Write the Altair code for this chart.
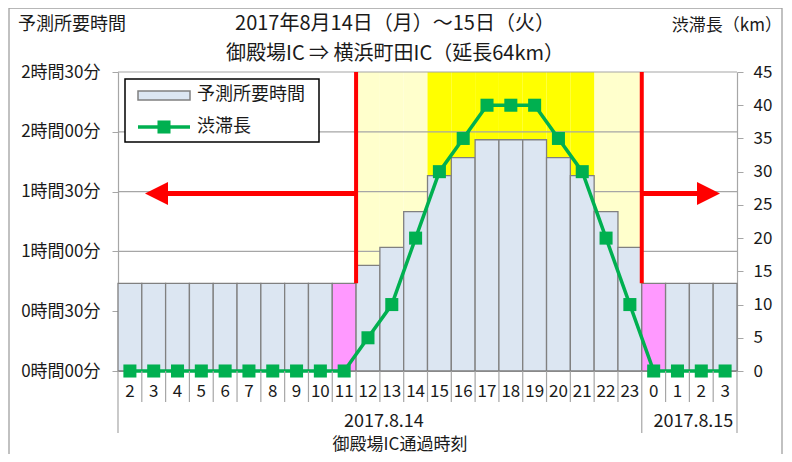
import altair as alt
import pandas as pd

FONT = "Noto Sans CJK JP"
TXT = "#1a1a1a"
GRID = "#A6A6A6"
BAR_FILL = "#DCE6F2"
BAR_STROKE = "#808080"
PINK = "#FF99FF"
LIGHT_Y = "#FFFFCC"
YELLOW = "#FFFF00"
GREEN = "#00B050"
RED = "#FF0000"

# ---- data ----
hours_14 = list(range(2, 24))
hours_15 = [0, 1, 2, 3]
keys = [f"14-{h}" for h in hours_14] + [f"15-{h}" for h in hours_15]
minutes = [44, 44, 44, 44, 44, 44, 44, 44, 44, 44,
           53, 62, 80, 98, 107, 116, 116, 116, 107, 98, 80, 62,
           44, 44, 44, 44]
km = [0, 0, 0, 0, 0, 0, 0, 0, 0, 0,
      5, 10, 20, 30, 35, 40, 40, 40, 35, 30, 20, 10,
      0, 0, 0, 0]
pink_keys = ["14-11", "15-0"]
light_keys = ["14-12", "14-13", "14-14", "14-22", "14-23"]
strong_keys = ["14-15", "14-16", "14-17", "14-18", "14-19", "14-20", "14-21"]
time_ticks = [0, 30, 60, 90, 120, 150]
km_ticks = [0, 5, 10, 15, 20, 25, 30, 35, 40, 45]
red_line_keys = ["14-12", "15-0"]
red_line_bottom = 44
arrow_level = 89
date_keys = ["14-13", "15-2"]
date_labels = ["2017.8.14", "2017.8.15"]
legend_labels = ["予測所要時間", "渋滞長"]
title_lines = ["2017年8月14日（月）～15日（火）", "御殿場IC ⇒ 横浜町田IC（延長64km）"]
left_title = "予測所要時間"
right_title = "渋滞長（km）"
x_title = "御殿場IC通過時刻"

df = pd.DataFrame({"key": keys, "min": minutes, "km": km})
df["fill"] = [PINK if k in pink_keys else BAR_FILL for k in keys]

bg = pd.DataFrame({
    "key": light_keys + strong_keys,
    "fill": [LIGHT_Y] * len(light_keys) + [YELLOW] * len(strong_keys),
    "top": [150] * (len(light_keys) + len(strong_keys)),
})

W, H = 619, 299
xscale = alt.Scale(domain=keys, paddingInner=0, paddingOuter=0)
yscale = alt.Scale(domain=[0, 150], nice=False)

XAXIS = alt.Axis(
    title=None, labelExpr="split(datum.value, '-')[1]",
    labelAngle=0, ticks=False, tickSize=0, labelPadding=12,
    labelFont=FONT, labelFontSize=17, labelColor=TXT,
    domainColor=GRID, domainWidth=1.2, grid=False,
)
YAXIS = alt.Axis(
    title=None, values=time_ticks,
    labelExpr="floor(datum.value/60) + '時間' + (datum.value % 60 == 0 ? '00' : '30') + '分'",
    grid=False, domainColor=GRID, domainWidth=1.2, tickColor=GRID, tickSize=6,
    labelPadding=12, labelFont=FONT, labelFontSize=17, labelColor=TXT,
)


def X(field="key:N", **kw):
    return alt.X(field, scale=xscale, axis=XAXIS, **kw)


def Y(field):
    return alt.Y(field, scale=yscale, axis=YAXIS)


bg_layer = alt.Chart(bg).mark_bar(strokeWidth=0).encode(
    x=X(), y=Y("top:Q"), fill=alt.Fill("fill:N", scale=None),
)

grid_layer = alt.Chart(pd.DataFrame({"v": time_ticks})).mark_rule(
    color=GRID, strokeWidth=1.2
).encode(y=Y("v:Q"), x=alt.value(0), x2=alt.value(W))

bars = alt.Chart(df).mark_bar(stroke=BAR_STROKE, strokeWidth=1.3).encode(
    x=X(), y=Y("min:Q"), fill=alt.Fill("fill:N", scale=None),
)

red_df = pd.DataFrame({"key": red_line_keys, "top": [150, 150],
                       "bot": [red_line_bottom, red_line_bottom]})
red_lines = alt.Chart(red_df).mark_rule(color=RED, strokeWidth=4).encode(
    x=X(bandPosition=0), y=Y("top:Q"), y2="bot:Q",
)

arr_l = pd.DataFrame({"key": ["14-12"], "y": [arrow_level]})
arr_r = pd.DataFrame({"key": ["15-0"], "y": [arrow_level]})
shaft_l = alt.Chart(arr_l).mark_rule(color=RED, strokeWidth=5).encode(
    x=X(bandPosition=0), x2=alt.value(50), y=Y("y:Q"),
)
shaft_r = alt.Chart(arr_r).mark_rule(color=RED, strokeWidth=5).encode(
    x=X(bandPosition=0), x2=alt.value(579), y=Y("y:Q"),
)
head_l = alt.Chart(arr_l).mark_point(
    shape="M1,-1 L1,1 L-1,0 Z", size=529, filled=True, color=RED, opacity=1, strokeWidth=0
).encode(x=alt.value(38.5), y=Y("y:Q"))
head_r = alt.Chart(arr_r).mark_point(
    shape="M-1,-1 L-1,1 L1,0 Z", size=529, filled=True, color=RED, opacity=1, strokeWidth=0
).encode(x=alt.value(590.5), y=Y("y:Q"))

inner = alt.layer(bg_layer, grid_layer, bars, red_lines, shaft_l, shaft_r, head_l, head_r)

line = alt.Chart(df).mark_line(
    color=GREEN, strokeWidth=3.5,
    point=alt.OverlayMarkDef(shape="square", size=170, filled=True, color=GREEN, opacity=1),
).encode(
    x=X(),
    y=alt.Y("km:Q", scale=alt.Scale(domain=[0, 45], nice=False), axis=alt.Axis(
        orient="right", values=km_ticks, grid=False, title=None,
        domainColor=GRID, domainWidth=1.2, tickColor=GRID, tickSize=6,
        labelPadding=10, labelFont=FONT, labelFontSize=17, labelColor=TXT,
    )),
)

# x-axis category separators
short_keys = [k for k in keys if k not in ("14-2", "15-0")]
sep_short = alt.Chart(pd.DataFrame({"key": short_keys})).mark_rule(
    color=GRID, strokeWidth=1.2).encode(
    x=X(bandPosition=0), y=alt.value(H), y2=alt.value(H + 31),
)
sep_long = alt.Chart(pd.DataFrame({"key": ["14-2", "15-0"]})).mark_rule(
    color=GRID, strokeWidth=1.2).encode(
    x=X(bandPosition=0), y=alt.value(H), y2=alt.value(H + 62),
)
sep_end = alt.Chart(pd.DataFrame({"key": ["15-3"]})).mark_rule(
    color=GRID, strokeWidth=1.2).encode(
    x=X(bandPosition=1), y=alt.value(H), y2=alt.value(H + 62),
)
dates = alt.Chart(pd.DataFrame({"key": date_keys, "label": date_labels})).mark_text(
    font=FONT, fontSize=18, color=TXT, baseline="middle", dx=4).encode(
    x=X(bandPosition=0), y=alt.value(H + 51), text="label:N",
)

# legend
one = pd.DataFrame({"a": [0]})
leg_box = alt.Chart(one).mark_rect(fill="white", stroke="black", strokeWidth=1.5).encode(
    x=alt.value(7), x2=alt.value(201), y=alt.value(7), y2=alt.value(70))
leg_swatch = alt.Chart(one).mark_rect(fill=BAR_FILL, stroke=BAR_STROKE, strokeWidth=1.5).encode(
    x=alt.value(20), x2=alt.value(72), y=alt.value(19), y2=alt.value(28))
leg_line = alt.Chart(one).mark_rule(color=GREEN, strokeWidth=3.5).encode(
    x=alt.value(20), x2=alt.value(72), y=alt.value(55))
leg_sq = alt.Chart(one).mark_point(shape="square", size=170, filled=True, color=GREEN, opacity=1).encode(
    x=alt.value(46), y=alt.value(55))


def text_layer(t, x, y, size=18, align="center"):
    return alt.Chart(pd.DataFrame({"t": [t]})).mark_text(
        font=FONT, fontSize=size, color=TXT, align=align, baseline="middle"
    ).encode(x=alt.value(x), y=alt.value(y), text="t:N")


leg_t1 = text_layer(legend_labels[0], 79, 23, align="left")
leg_t2 = text_layer(legend_labels[1], 79, 55, align="left")

t1 = text_layer(title_lines[0], 277, -48, size=20)
t2 = text_layer(title_lines[1], 277, -18, size=20)
lt = text_layer(left_title, -100, -47, align="left")
rt = text_layer(right_title, 664, -46, size=17, align="right")
xt = text_layer(x_title, 282, 373, size=17)

border = alt.Chart(one).mark_rect(fill="white", fillOpacity=0, stroke="#A0A0A0", strokeWidth=1.3).encode(
    x=alt.value(-109), x2=alt.value(664), y=alt.value(-64), y2=alt.value(420))

chart = alt.layer(
    inner, line, sep_short, sep_long, sep_end, dates,
    leg_box, leg_swatch, leg_line, leg_sq, leg_t1, leg_t2,
    t1, t2, lt, rt, xt, border,
).resolve_scale(y="independent").properties(
    width=W, height=H,
    autosize=alt.AutoSizeParams(type="none"),
    padding={"left": 110, "top": 64, "right": 47, "bottom": 83},
    background="white",
).configure_view(stroke=None)

chart.save("out.html", embed_options={"renderer": "svg", "actions": False})
